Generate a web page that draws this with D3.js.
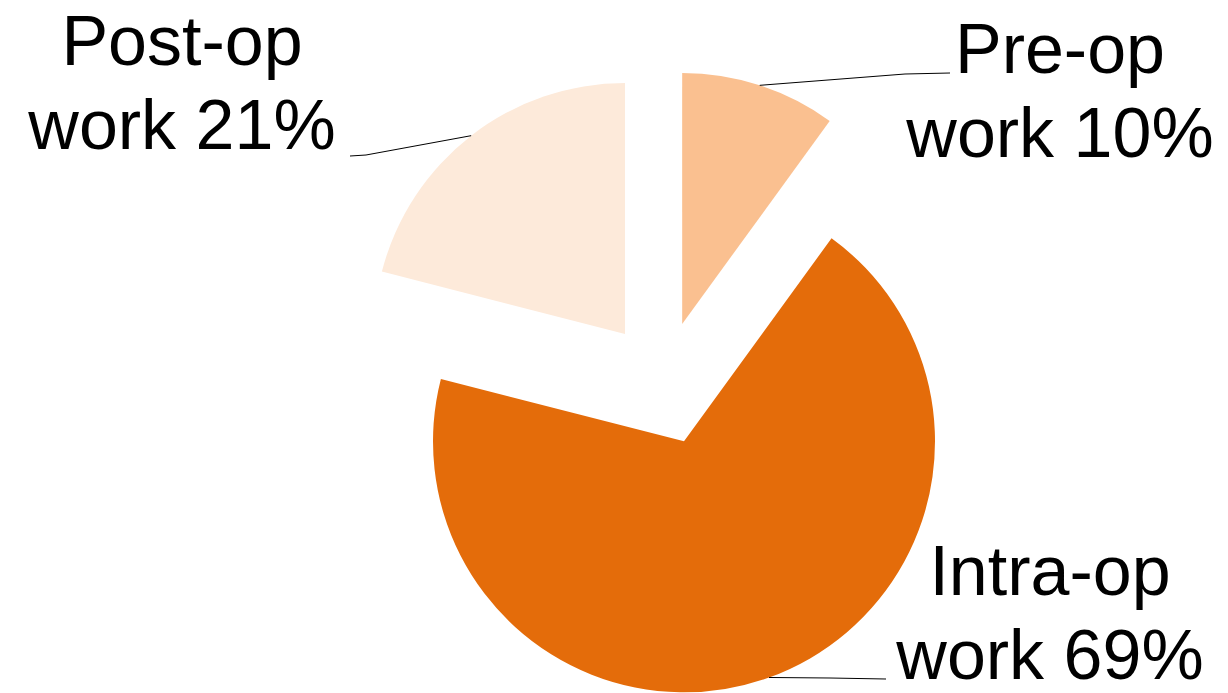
<!DOCTYPE html>
<html lang="en">
<head>
<meta charset="utf-8">
<title>Share of surgical work</title>
<script src="https://d3js.org/d3.v7.min.js"></script>
<style>
  body { margin: 0; background: #fff; }
  svg text { font-family: "Liberation Sans", Arial, sans-serif; fill: #000; }
</style>
</head>
<body>
<svg id="chart" width="1228" height="693"></svg>
<script>
  // Data
  const phases = ['Pre-op', 'Intra-op', 'Post-op'];
  const shares = [10, 69, 21];
  const colours = ['#FAC090', '#E46C0A', '#FDEADA'];

  // Layout
  const cx = 663, cy = 383, radius = 251, explode = 62;
  const fontSize = 70, lineGap = 84;

  // label block: centre x, first baseline; leader: bend point and end point
  const labelLayout = [
    { x: 1060, y: 73, bend: [905, 74], end: [950, 73] },
    { x: 1050, y: 595, bend: [830, 678], end: [886, 679] },
    { x: 182, y: 65, bend: [366, 155], end: [350, 156] }
  ];

  const svg = d3.select('#chart');

  const pie = d3.pie().sort(null).value(d => d.value);
  const arc = d3.arc().innerRadius(0).outerRadius(radius);

  const data = phases.map((p, i) => ({ name: p, value: shares[i], colour: colours[i] }));
  const arcs = pie(data);

  // offset of an exploded slice along its mid angle
  const mid = d => (d.startAngle + d.endAngle) / 2;
  const shift = (d, r) => [Math.sin(mid(d)) * r, -Math.cos(mid(d)) * r];

  const g = svg.append('g').attr('transform', `translate(${cx},${cy})`);

  g.selectAll('path.slice')
    .data(arcs)
    .enter()
      .append('path')
      .attr('class', 'slice')
      .attr('d', arc)
      .attr('fill', d => d.data.colour)
      .attr('transform', d => {
        const [dx, dy] = shift(d, explode);
        return `translate(${dx},${dy})`;
      });

  // leader lines, starting on the slice rim at the mid angle
  const line = d3.line();
  svg.selectAll('path.leader')
    .data(arcs)
    .enter()
      .append('path')
      .attr('class', 'leader')
      .attr('fill', 'none')
      .attr('stroke', '#000')
      .attr('stroke-width', 1)
      .attr('d', (d, i) => {
        const [ex, ey] = shift(d, explode);
        const [rx, ry] = shift(d, radius);
        const start = [cx + ex + rx, cy + ey + ry];
        const l = labelLayout[i];
        return line([start, l.bend, l.end]);
      });

  // labels
  const labels = svg.selectAll('text.label')
    .data(arcs)
    .enter()
      .append('text')
      .attr('class', 'label')
      .attr('text-anchor', 'middle')
      .attr('font-size', fontSize);

  labels.append('tspan')
    .attr('x', (d, i) => labelLayout[i].x)
    .attr('y', (d, i) => labelLayout[i].y)
    .text(d => d.data.name);

  labels.append('tspan')
    .attr('x', (d, i) => labelLayout[i].x)
    .attr('y', (d, i) => labelLayout[i].y + lineGap)
    .text(d => `work ${d.data.value}%`);
</script>
</body>
</html>
